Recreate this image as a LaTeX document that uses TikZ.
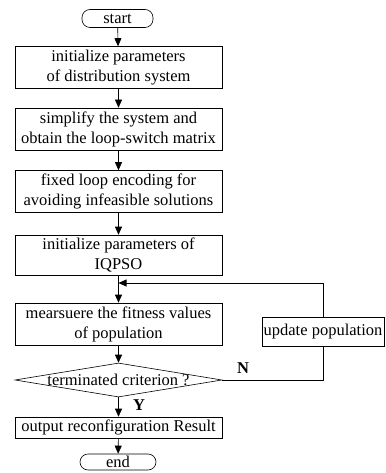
\documentclass[tikz,border=0pt]{standalone}
\usepackage{fontspec}
\setmainfont{Liberation Serif}
\usetikzlibrary{shapes.geometric,arrows.meta}

\begin{document}
\begin{tikzpicture}[x=1pt,y=-1pt,font=\fontsize{16.5}{20}\selectfont,semithick]
	
	\tikzset{process/.style={draw, minimum width=207pt, minimum height=42pt, align=center, inner sep=1pt}}
	\tikzset{terminal/.style={draw, rounded corners=8pt, minimum height=18pt, inner sep=0pt}}
	\tikzset{decision/.style={draw, diamond, minimum width=207pt, minimum height=34pt, inner sep=0pt}}
	\tikzset{flow/.style={-{Triangle[length=8pt,width=7pt]}}}
	
	\useasboundingbox (0,0) rectangle (385,473);
	
	% main column
	\node[terminal, minimum width=71pt] (start) at (117.5,18.5) {start};
	\node[process] (initsys) at (118.5,67.5) {initialize parameters\\of distribution system};
	\node[process] (simplify) at (118.5,129) {simplify the system and\\obtain the loop-switch matrix};
	\node[process] (encode) at (118.5,191.5) {fixed loop encoding for\\avoiding infeasible solutions};
	\node[process, minimum height=40pt] (initpso) at (118.5,255) {initialize parameters of\\IQPSO};
	\node[process] (fitness) at (118.5,324) {mearsuere the fitness values\\of population};
	\node[decision] (crit) at (118.5,380) {\makebox[0pt]{terminated criterion ?}};
	\node[process, minimum height=21pt] (output) at (118.5,427.5) {output reconfiguration Result};
	\node[terminal, minimum width=76pt, minimum height=16pt] (end) at (118,462) {end};
	
	% loop back
	\node[draw, minimum width=122pt, minimum height=29pt, inner sep=1pt] (update) at (323,331.5) {update population};
	\coordinate (back) at (118.5,283);
	
	\draw[flow] (start) -- (initsys);
	\draw[flow] (initsys) -- (simplify);
	\draw[flow] (simplify) -- (encode);
	\draw[flow] (encode) -- (initpso);
	\draw[flow] (initpso) -- (fitness);
	\draw[flow] (fitness) -- (crit);
	\draw[flow] (crit) -- (output);
	\draw[flow] (output) -- (end);
	
	\draw (crit.east) -| (update.south);
	\draw[flow] (update.north) |- (back);
	
	\node[font=\fontsize{16.5}{20}\selectfont\bfseries] (no) at (243,368) {N};
	\node[font=\fontsize{16.5}{20}\selectfont\bfseries] (yes) at (139,405) {Y};
	
\end{tikzpicture}
\end{document}
